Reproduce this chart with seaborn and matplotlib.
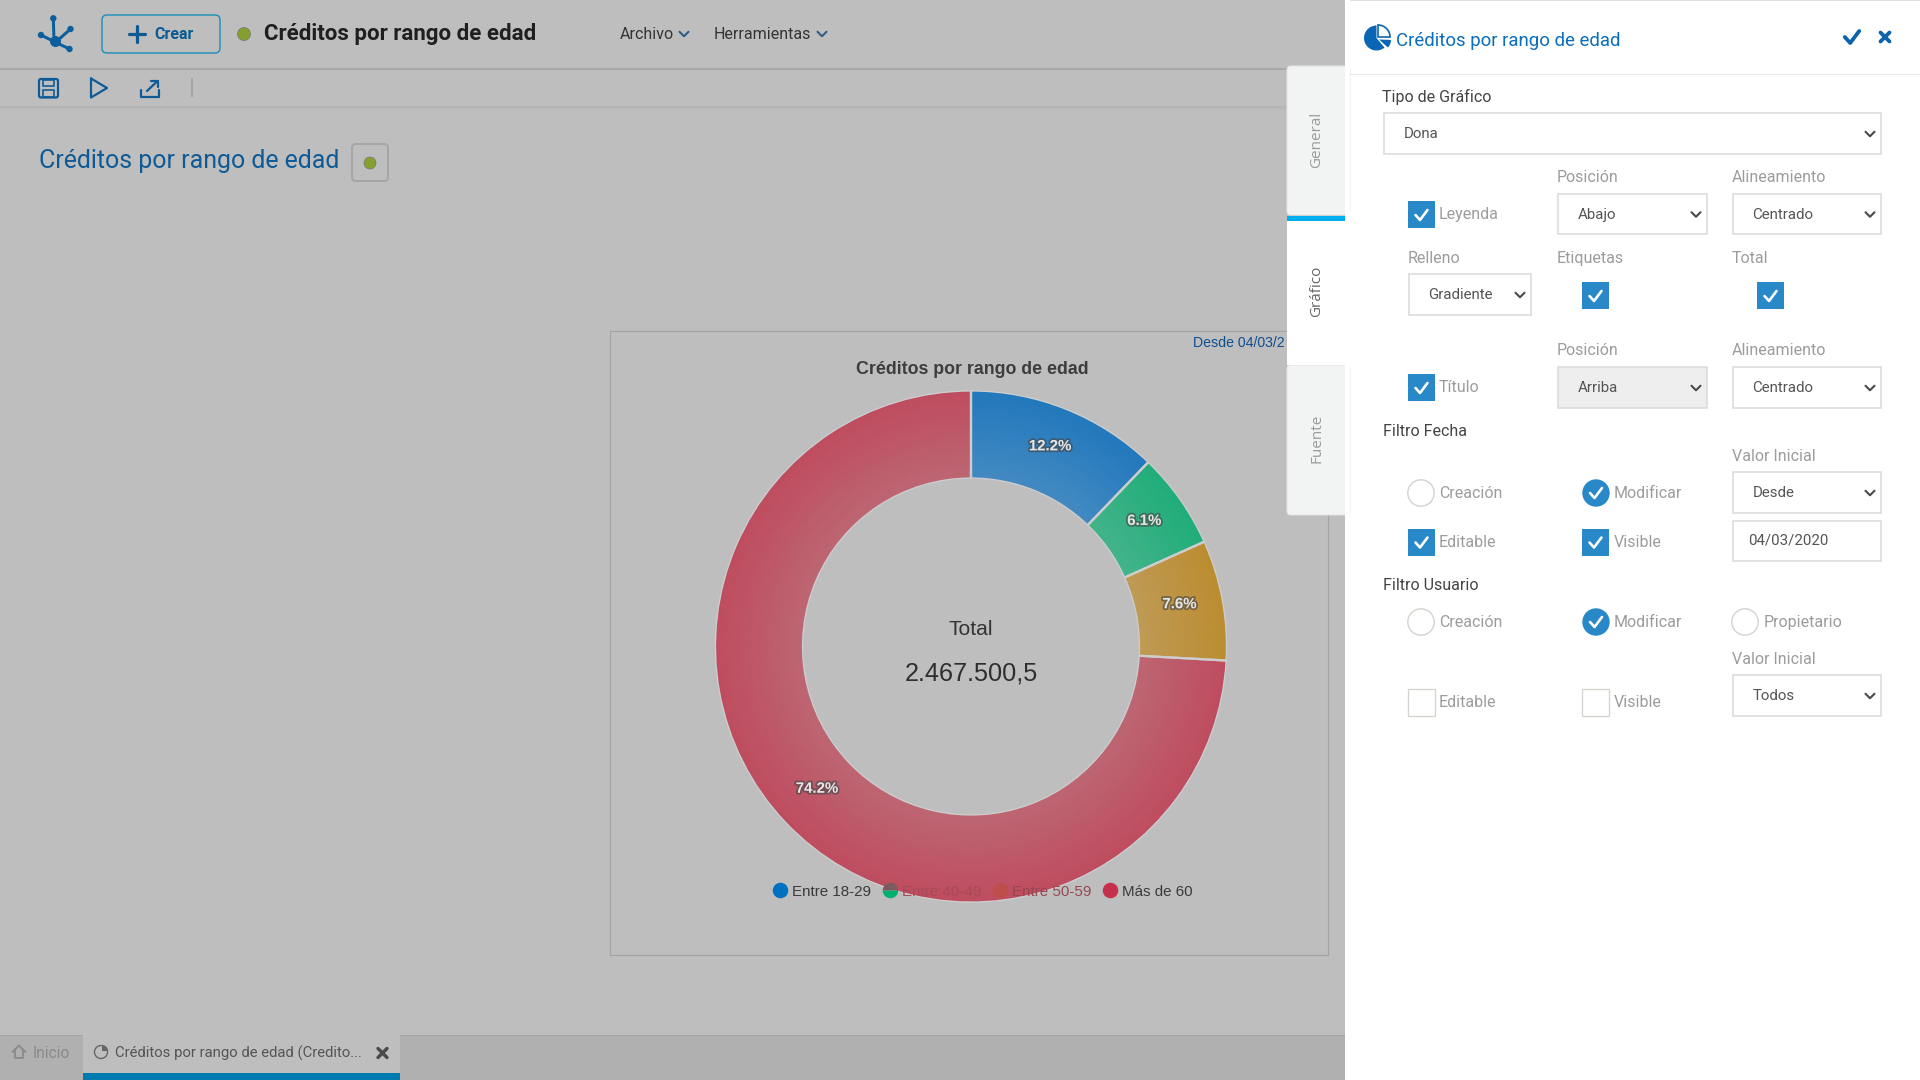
import numpy as np
import matplotlib
matplotlib.use("Agg")
import matplotlib.pyplot as plt
import matplotlib.patheffects as pe
from matplotlib.lines import Line2D
from matplotlib.patches import Rectangle, FancyBboxPatch, Circle, Wedge, Polygon
import seaborn as sns

# ---- chart data ----
categories = ["Entre 18-29", "Entre 40-49", "Entre 50-59", "Más de 60"]
shares = [12.2, 6.1, 7.6, 74.2]
share_labels = ["12.2%", "6.1%", "7.6%", "74.2%"]
total_caption = "Total"
total_value = "2.467.500,5"
chart_title = "Créditos por rango de edad"
date_note = "Desde 04/03/2"

# ---- colours ----
outer_colors = ["#2178BC", "#20AD7A", "#BC8C30", "#BE4C5F"]
inner_colors = ["#4289C2", "#42B38A", "#BE9A54", "#BD6572"]
legend_colors = ["#0070C0", "#00B070", "#BE4E4C", "#C5304B"]
legend_text_colors = ["#3A3A3A", "#A84A58", "#964752", "#3A3A3A"]
BG = "#BEBEBE"

sns.set_theme(style="white")
plt.rcParams["font.family"] = ["Roboto", "DejaVu Sans"]

fig = plt.figure(figsize=(19.2, 10.8), dpi=100, facecolor=BG)
W, H = 1920, 1080


def pix_axes(z):
    a = fig.add_axes([0, 0, 1, 1], zorder=z)
    a.set_xlim(0, W)
    a.set_ylim(H, 0)
    a.axis("off")
    a.patch.set_alpha(0)
    return a


back = pix_axes(0)
front = pix_axes(2)
PX = 0.72


def rect(a, x0, y0, x1, y1, fc="none", ec="none", lw=1.0, z=1):
    a.add_patch(Rectangle((x0, y0), x1 - x0, y1 - y0, fc=fc, ec=ec, lw=lw * PX, zorder=z))


def rrect(a, x0, y0, x1, y1, r=4, fc="none", ec="none", lw=1.0, z=1):
    a.add_patch(FancyBboxPatch((x0 + r, y0 + r), x1 - x0 - 2 * r, y1 - y0 - 2 * r,
                               boxstyle=f"round,pad={r},rounding_size={r}",
                               fc=fc, ec=ec, lw=lw * PX, zorder=z))


def txt(a, x, y, s, size, color="#444444", weight="normal", ha="left", rot=0, family=None, z=5):
    return a.text(x, y + 1.6, s, fontsize=size * PX, color=color, fontweight=weight, ha=ha, va="center",
                  rotation=rot, family=family or ["Roboto", "DejaVu Sans"], zorder=z)


def poly(a, xs, ys, color, lw, z=6):
    a.plot(xs, ys, color=color, lw=lw * PX, solid_capstyle="round", solid_joinstyle="round", zorder=z)


def chevron(a, x, y, color="#555555", w=4.5, h=4.5, lw=2.1):
    poly(a, [x - w, x, x + w], [y - h / 2, y + h / 2, y - h / 2], color, lw)


def check(a, x, y, color="white", s=1.0, lw=2.6):
    poly(a, [x - 6 * s, x - 1.5 * s, x + 6 * s], [y, y + 5 * s, y - 5 * s], color, lw)


# ---- dimmed application behind the panel ----
rect(back, 0, 68, 1345, 69.5, fc="#A9A9A9")
for i, c in enumerate(["#B4B4B4", "#B7B7B7", "#BABABA", "#BCBCBC", "#BDBDBD"]):
    rect(back, 0, 106 + i, 1345, 107 + i, fc=c)

# logo
LOGO = "#0C5F9C"
for (x, y, x0, y0) in [(53.3, 18.3, 54, 40), (41, 35, 55, 42), (70.5, 29, 57, 41), (69.5, 49, 55, 42)]:
    poly(back, [x0, x], [y0, y], LOGO, 3)
    back.add_patch(Circle((x, y), 3.2, fc=LOGO, ec="none", zorder=6))
back.add_patch(Circle((55.5, 41.5), 5.5, fc=LOGO, ec="none", zorder=6))

# create button and top menu
rrect(back, 102, 15, 220, 53, r=5, ec="#1A8DBB", lw=1.4)
poly(back, [129, 145], [34, 34], "#0B5A94", 3.2)
poly(back, [137, 137], [26, 42], "#0B5A94", 3.2)
txt(back, 154, 33, "Crear", 16, "#0B5A94", "bold")
back.add_patch(Circle((244, 34), 6.5, fc="#86A030", ec="#777777", lw=0.5, zorder=6))
txt(back, 264, 32.5, chart_title, 22.3, "#1F1F1F", "bold")
txt(back, 620, 32.5, "Archivo", 16, "#333333")
chevron(back, 684, 34, "#2B5B84", lw=2)
txt(back, 714, 32.5, "Herramientas", 16, "#333333")
chevron(back, 822, 34, "#2B5B84", lw=2)

# toolbar icons
ICON = "#0E5A96"
rrect(back, 39, 79, 58, 97.5, r=2, ec=ICON, lw=2.2)
rect(back, 43, 80, 54, 86, ec=ICON, lw=1.6)
rect(back, 43, 90, 54, 97, ec=ICON, lw=1.6)
poly(back, [91, 107, 91, 91], [78.5, 88, 97.5, 78.5], ICON, 2.2)
poly(back, [141, 141, 159, 159], [90, 97, 97, 90], ICON, 2.2)
poly(back, [147, 157.5], [91, 81], ICON, 2.2)
poly(back, [151, 157.5, 157.5], [81, 81, 87], ICON, 2.2)
rect(back, 191, 78, 192.5, 97, fc="#A5A5A5")

# page heading
txt(back, 39, 159.5, chart_title, 24.9, "#0E5A96")
rrect(back, 352, 144, 388, 181, r=4, ec="#A6A6A6", lw=2)
back.add_patch(Circle((370, 163), 6, fc="#86A030", ec="#777777", lw=0.5, zorder=6))

# bottom tabs
rect(back, 0, 1035, 1345, 1080, fc="#B0B0B0")
rect(back, 0, 1035, 1345, 1036, fc="#A5A5A5")
rect(back, 83, 1035, 400, 1080, fc=BG, z=2)
rect(back, 83, 1073, 400, 1080, fc="#007BB0", z=3)
poly(back, [12.5, 19, 25.5], [1052, 1045.5, 1052], "#8A8A8A", 1.8)
poly(back, [15, 15, 23, 23], [1050, 1058, 1058, 1050], "#8A8A8A", 1.8)
txt(back, 33, 1051.5, "Inicio", 15.5, "#8A8A8A")
back.add_patch(Circle((101, 1052), 6.5, fc="none", ec="#666666", lw=1, zorder=5))
back.add_patch(Wedge((102, 1051), 6, 270, 360, fc="#666666", ec="none", zorder=5))
txt(back, 115, 1051.5, "Créditos por rango de edad (Credito...", 14.85, "#555555")
poly(back, [378, 387], [1048.5, 1057.5], "#4A4A4A", 3.4)
poly(back, [378, 387], [1057.5, 1048.5], "#4A4A4A", 3.4)

# chart frame
rect(back, 610, 331, 1328, 955, ec="#A3A3A3", lw=1.2)
txt(back, 856, 367.5, chart_title, 17.7, "#3D3D3D", "bold", family=["Liberation Sans"])
txt(back, 1193, 341, date_note, 14.1, "#0E4E90", family=["Liberation Sans"])

# ---- donut ----
CX, CY, R = 971, 646.5, 256
HOLE = 168 / 256
ax = fig.add_axes([(CX - R - 3) / W, 1 - (CY + R + 3) / H, 2 * (R + 3) / W, 2 * (R + 3) / H], zorder=1)
ax.patch.set_alpha(0)
n_rings = 28
ramps = [sns.blend_palette([o, i], n_rings) for o, i in zip(outer_colors, inner_colors)]
radii = np.linspace(1, HOLE, n_rings + 1)
for k in range(n_rings):
    ring_colors = [r[k] for r in ramps]
    wedges, _ = ax.pie(shares, radius=radii[k], startangle=90, counterclock=False, colors=ring_colors,
                       wedgeprops=dict(width=radii[k] - radii[k + 1], linewidth=0.6))
    for w, c in zip(wedges, ring_colors):
        w.set_edgecolor(c)
ax.pie(shares, radius=1, startangle=90, counterclock=False, colors=["none"] * 4,
       wedgeprops=dict(width=1 - HOLE, edgecolor="#CDCDCD", linewidth=1.6))
# the slice borders only show between slices: hide them along both arcs
ax.add_patch(Circle((0, 0), 1 + 1.3 / R, fc="none", ec=BG, lw=2.2 * PX, zorder=15))
ax.add_patch(Circle((0, 0), HOLE - 1.3 / R, fc="none", ec=BG, lw=2.2 * PX, zorder=15))
ax.set_xlim(-(R + 3) / R, (R + 3) / R)
ax.set_ylim(-(R + 3) / R, (R + 3) / R)

cum = np.cumsum(shares) - np.array(shares) / 2
angles = np.deg2rad(cum / np.sum(shares) * 360)
mid_r = (1 + HOLE) / 2
for a_, s_ in zip(angles, share_labels):
    ax.text(mid_r * np.sin(a_), mid_r * np.cos(a_) + 3.5 / R, s_, ha="center", va="center",
            fontsize=15 * PX, fontweight="bold", color="#E6E6E6", family=["Liberation Sans"],
            path_effects=[pe.withStroke(linewidth=2.6, foreground="#444444", alpha=0.6)], zorder=20)
ax.text(0, 17 / R, total_caption, ha="center", va="center", fontsize=21 * PX, color="#333333",
        family=["Liberation Sans"], zorder=20)
ax.text(0, -26.5 / R, total_value, ha="center", va="center", fontsize=25.3 * PX, color="#2E2E2E",
        family=["Liberation Sans"], zorder=20)

handles = [Line2D([], [], ls="none", marker="o", markersize=15.5 * PX, mec="none", mfc=c) for c in legend_colors]
handles[1] = Line2D([], [], ls="none", marker="o", markersize=15.5 * PX, mec="none", fillstyle="bottom",
                    mfc=legend_colors[1], markerfacecoloralt="#7B5B5F")
leg = ax.legend(handles, categories, ncol=4, loc="center", frameon=False,
                bbox_to_anchor=(982.5 / W, 1 - 891.5 / H), bbox_transform=fig.transFigure,
                prop={"family": "Liberation Sans", "size": 15.1 * PX},
                handlelength=1.0, handletextpad=0.28, columnspacing=0.76, borderpad=0, borderaxespad=0)
leg.set_zorder(30)
for t, c in zip(leg.get_texts(), legend_text_colors):
    t.set_color(c)

# ---- settings panel ----
rect(front, 1344.5, 0, W, H, fc="white", z=0)
rect(front, 1344.5, 73.5, W, 74.5, fc="#E8E8E8", z=1)
rect(front, 1344.5, 0, W, 1, fc="#E0E0E0", z=1)
BLUE = "#0A66B2"
front.add_patch(Wedge((1376.5, 38), 12.5, 50, 270, fc=BLUE, ec="none", zorder=3))
front.add_patch(Wedge((1378, 37), 12, 270, 360, fc="none", ec=BLUE, lw=1.2, zorder=3))
front.add_patch(Wedge((1379, 39.5), 12, 2, 42, fc=BLUE, ec="none", zorder=3))
txt(front, 1395.5, 39.5, chart_title, 18.7, "#0A6EBD")
check(front, 1852, 37, "#0B63AE", 1.2, 3.8)
poly(front, [1880.5, 1889.5], [32.5, 41.5], "#0B63AE", 3.8)
poly(front, [1880.5, 1889.5], [41.5, 32.5], "#0B63AE", 3.8)

# tabs
rrect(front, 1287, 66, 1350, 215, r=4, fc="#F2F4F3", ec="#E4E4E4", z=1)
rrect(front, 1287, 365, 1350, 515, r=4, fc="#F2F4F3", ec="#E4E4E4", z=1)
rect(front, 1287, 216, 1345, 365, fc="white", z=2)
rect(front, 1287, 216, 1345, 221, fc="#00AEEF", z=3)
rect(front, 1345, 0, 1350, H, fc="white", z=2)
TAB_FONT = ["Open Sans"]
txt(front, 1317, 138, "General", 15.2, "#9A9A9A", ha="center", rot=90, family=TAB_FONT)
txt(front, 1317, 290, "Gráfico", 15.2, "#666666", ha="center", rot=90, family=TAB_FONT)
txt(front, 1317, 437, "Fuente", 15.2, "#9A9A9A", ha="center", rot=90, family=TAB_FONT)


def select(x0, y0, x1, y1, label, fc="white", tx=20):
    rect(front, x0, y0, x1, y1, fc=fc, ec="#D9D9D9", lw=1.5, z=2)
    txt(front, x0 + tx, (y0 + y1) / 2 - 1, label, 15, "#555555")
    chevron(front, x1 - 11, (y0 + y1) / 2 + 0.5, "#4A4A4A")


def checkbox(x, y, on=True):
    if on:
        rect(front, x, y, x + 27, y + 27, fc="#2888C8", z=2)
        check(front, x + 13.5, y + 14)
    else:
        rect(front, x, y, x + 27, y + 27, fc="white", ec="#D6D2CE", lw=1.3, z=2)


def radio(x, y, on=False):
    if on:
        front.add_patch(Circle((x, y), 13.7, fc="#2888C8", ec="none", zorder=3))
        check(front, x, y)
    else:
        front.add_patch(Circle((x, y), 13.2, fc="white", ec="#D6D2CE", lw=1.0, zorder=3))


DARK, GREY = "#444444", "#9C9C9C"
txt(front, 1382.5, 95.5, "Tipo de Gráfico", 16, DARK)
select(1383.5, 113, 1881, 154, "Dona")

txt(front, 1557, 175.5, "Posición", 16, GREY)
txt(front, 1732, 175.5, "Alineamiento", 16, GREY)
checkbox(1408, 201)
txt(front, 1439, 212.5, "Leyenda", 16, GREY)
select(1558, 194, 1707, 234, "Abajo")
select(1732.5, 194, 1881, 234, "Centrado")

txt(front, 1408, 256.5, "Relleno", 16, GREY)
txt(front, 1557, 256.5, "Etiquetas", 16, GREY)
txt(front, 1732, 256.5, "Total", 16, GREY)
select(1408.5, 274, 1531, 315, "Gradiente")
checkbox(1582, 282)
checkbox(1757, 282)

txt(front, 1557, 348.5, "Posición", 16, GREY)
txt(front, 1732, 348.5, "Alineamiento", 16, GREY)
checkbox(1408, 374)
txt(front, 1439, 385.5, "Título", 16, GREY)
select(1558, 367, 1707, 408, "Arriba", fc="#EEEEEE")
select(1732.5, 367, 1881, 408, "Centrado")

txt(front, 1383, 430, "Filtro Fecha", 16, DARK)
txt(front, 1732, 455, "Valor Inicial", 16, GREY)
radio(1421, 493)
txt(front, 1439, 491.5, "Creación", 16, GREY)
radio(1596, 493, True)
txt(front, 1614, 491.5, "Modificar", 16, GREY)
select(1732.5, 472, 1881, 513, "Desde")
checkbox(1408, 528.5)
txt(front, 1439, 540.5, "Editable", 16, GREY)
checkbox(1582, 528.5)
txt(front, 1614, 540.5, "Visible", 16, GREY)
rect(front, 1732.5, 520.5, 1881, 561, fc="white", ec="#D9D9D9", lw=1.5, z=2)
txt(front, 1748, 539, "04/03/2020", 15, "#555555")

txt(front, 1383, 584, "Filtro Usuario", 16, DARK)
radio(1421, 622)
txt(front, 1439, 620.5, "Creación", 16, GREY)
radio(1596, 622, True)
txt(front, 1614, 620.5, "Modificar", 16, GREY)
radio(1745, 622)
txt(front, 1764, 620.5, "Propietario", 16, GREY)
txt(front, 1732, 658, "Valor Inicial", 16, GREY)
checkbox(1408, 689, False)
txt(front, 1439, 700.5, "Editable", 16, GREY)
checkbox(1582, 689, False)
txt(front, 1614, 700.5, "Visible", 16, GREY)
select(1732.5, 675, 1881, 716, "Todos")

fig.savefig("out.png", dpi=100, facecolor=BG)
